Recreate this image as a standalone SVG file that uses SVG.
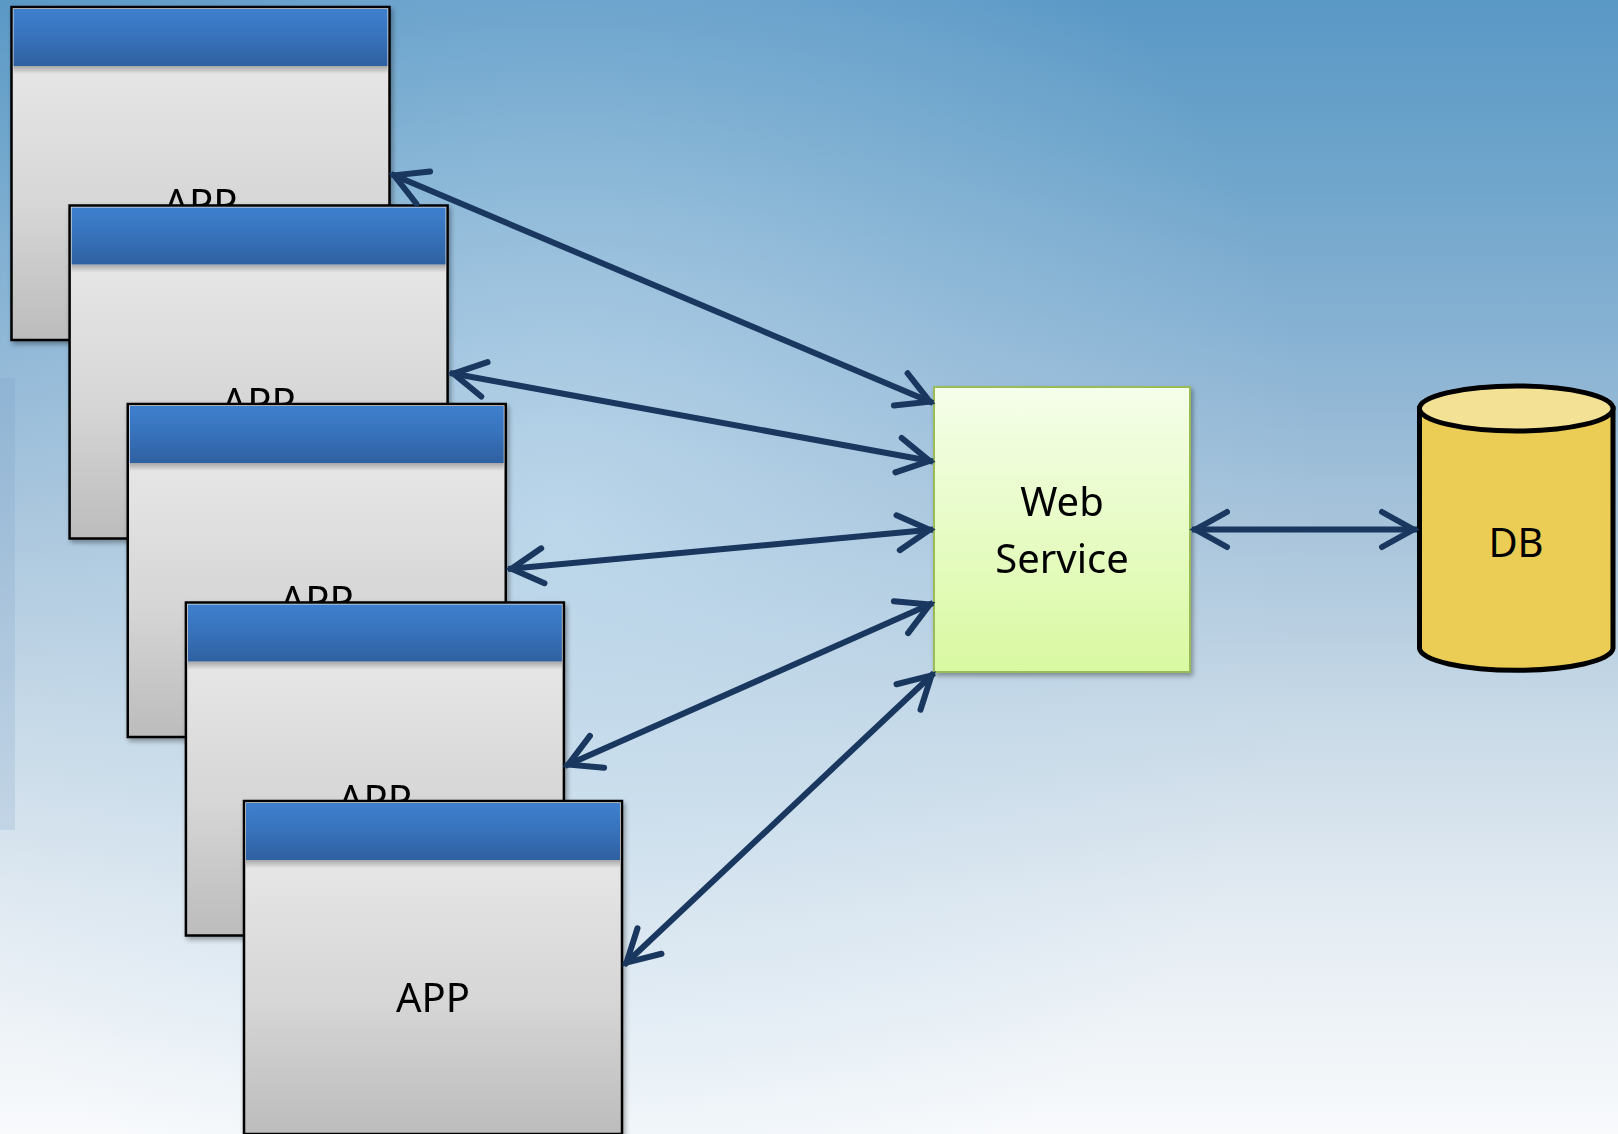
<svg xmlns="http://www.w3.org/2000/svg" width="1618" height="1134" viewBox="0 0 1618 1134">
<defs>
  <linearGradient id="bg" x1="0" y1="0" x2="0" y2="1">
    <stop offset="0" stop-color="#5a98c6"/>
    <stop offset="0.13" stop-color="#6ba3ca"/>
    <stop offset="0.3" stop-color="#88b2d3"/>
    <stop offset="0.45" stop-color="#a5c2da"/>
    <stop offset="0.62" stop-color="#c6d8e6"/>
    <stop offset="0.8" stop-color="#e3ebf2"/>
    <stop offset="1" stop-color="#f8fafc"/>
  </linearGradient>
  <radialGradient id="bgLight" gradientUnits="userSpaceOnUse" cx="560" cy="520" r="760">
    <stop offset="0" stop-color="#c4def0" stop-opacity="0.7"/>
    <stop offset="0.6" stop-color="#bcd8ec" stop-opacity="0.25"/>
    <stop offset="1" stop-color="#bcd8ec" stop-opacity="0"/>
  </radialGradient>
  <linearGradient id="body" x1="0" y1="0" x2="0" y2="1">
    <stop offset="0.18" stop-color="#e6e6e6"/>
    <stop offset="0.6" stop-color="#d6d6d6"/>
    <stop offset="1" stop-color="#bcbcbc"/>
  </linearGradient>
  <linearGradient id="head" x1="0" y1="0" x2="0" y2="1">
    <stop offset="0" stop-color="#3e80ce"/>
    <stop offset="0.45" stop-color="#3873bd"/>
    <stop offset="1" stop-color="#2e61a1"/>
  </linearGradient>
  <linearGradient id="headShadow" x1="0" y1="0" x2="0" y2="1">
    <stop offset="0" stop-color="#000" stop-opacity="0.28"/>
    <stop offset="1" stop-color="#000" stop-opacity="0"/>
  </linearGradient>
  <linearGradient id="ws" x1="0" y1="0" x2="0" y2="1">
    <stop offset="0" stop-color="#f5feea"/>
    <stop offset="1" stop-color="#d9f9a1"/>
  </linearGradient>
  <filter id="shadow" x="-5%" y="-5%" width="115%" height="115%">
    <feDropShadow dx="2" dy="3" stdDeviation="2.5" flood-color="#000" flood-opacity="0.35"/>
  </filter>
  <marker id="ah" markerUnits="userSpaceOnUse" viewBox="-45 -25 55 50" markerWidth="55" markerHeight="50" refX="0" refY="0" orient="auto-start-reverse" overflow="visible">
    <path d="M-35,-17.5 L-3.5,0 L-35,17.5" fill="none" stroke="#19375f" stroke-width="6" stroke-linecap="round" stroke-linejoin="miter"/>
  </marker>
  <style>
    .frame{fill:url(#body);stroke:#000;stroke-width:2.5}
    .hdr{fill:url(#head)}
    .hsh{fill:url(#headShadow)}
    .lbl{font-family:"Noto Sans","Open Sans","DejaVu Sans",sans-serif;font-size:40px;fill:#000;text-anchor:middle}
    .conn{fill:none;stroke:#19375f;stroke-width:6;marker-start:url(#ah);marker-end:url(#ah)}
  </style>
</defs>

<g id="background">
  <rect x="0" y="0" width="1618" height="1134" fill="url(#bg)"/>
  <rect x="0" y="0" width="1618" height="1134" fill="url(#bgLight)"/>
  <rect x="0" y="378" width="15" height="452" fill="#6f96c2" opacity="0.18"/>
</g>

<g id="app1" transform="translate(11.5,7)" filter="url(#shadow)">
  <rect class="frame" x="0" y="0" width="378" height="333"/>
  <rect class="hsh" x="2" y="59" width="374" height="8"/>
  <rect class="hdr" x="2" y="2" width="374" height="57"/>
  <text class="lbl" x="189" y="211">APP</text>
</g>
<g id="app2" transform="translate(69.6,205.5)" filter="url(#shadow)">
  <rect class="frame" x="0" y="0" width="378" height="333"/>
  <rect class="hsh" x="2" y="59" width="374" height="8"/>
  <rect class="hdr" x="2" y="2" width="374" height="57"/>
  <text class="lbl" x="189" y="211">APP</text>
</g>
<g id="app3" transform="translate(127.75,404)" filter="url(#shadow)">
  <rect class="frame" x="0" y="0" width="378" height="333"/>
  <rect class="hsh" x="2" y="59" width="374" height="8"/>
  <rect class="hdr" x="2" y="2" width="374" height="57"/>
  <text class="lbl" x="189" y="211">APP</text>
</g>
<g id="app4" transform="translate(185.9,602.5)" filter="url(#shadow)">
  <rect class="frame" x="0" y="0" width="378" height="333"/>
  <rect class="hsh" x="2" y="59" width="374" height="8"/>
  <rect class="hdr" x="2" y="2" width="374" height="57"/>
  <text class="lbl" x="189" y="211">APP</text>
</g>
<g id="app5" transform="translate(244,801)" filter="url(#shadow)">
  <rect class="frame" x="0" y="0" width="378" height="333"/>
  <rect class="hsh" x="2" y="59" width="374" height="8"/>
  <rect class="hdr" x="2" y="2" width="374" height="57"/>
  <text class="lbl" x="189" y="211">APP</text>
</g>

<g id="webservice" filter="url(#shadow)">
  <rect x="934" y="387" width="256" height="285" fill="url(#ws)" stroke="#9bbb59" stroke-width="2"/>
  <text class="lbl" x="1062" y="516">Web</text>
  <text class="lbl" x="1062" y="573">Service</text>
</g>

<g id="db">
  <path d="M1419.5,408.5 L1419.5,648.5 A96.8,22.5 0 0 0 1613,648.5 L1613,408.5 Z" fill="#ebcd55" stroke="#000" stroke-width="5"/>
  <ellipse cx="1516.25" cy="408.5" rx="96.8" ry="22.5" fill="#f3e195" stroke="#000" stroke-width="5"/>
  <text class="lbl" x="1516" y="557">DB</text>
</g>

<g id="connectors">
  <line class="conn" x1="391" y1="174" x2="933" y2="403"/>
  <line class="conn" x1="450" y1="373" x2="933" y2="461.5"/>
  <line class="conn" x1="508" y1="569" x2="933" y2="529.5"/>
  <line class="conn" x1="565" y1="766" x2="933" y2="603"/>
  <line class="conn" x1="624" y1="965" x2="934" y2="673"/>
  <line class="conn" x1="1192" y1="529.5" x2="1417" y2="529.5"/>
</g>
</svg>
